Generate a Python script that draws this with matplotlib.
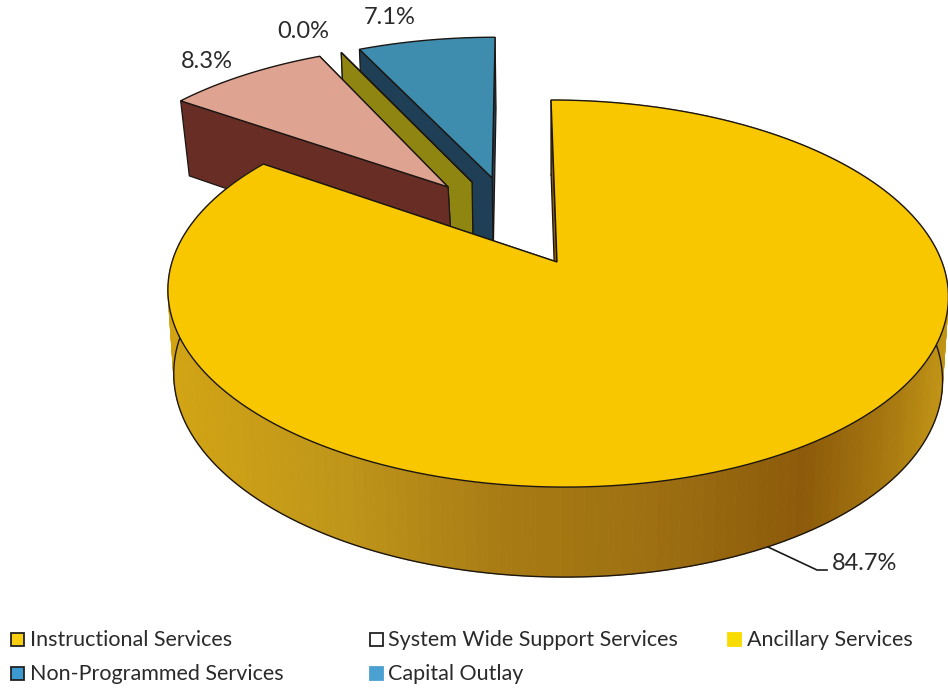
import numpy as np
import matplotlib
matplotlib.use("Agg")
import matplotlib.pyplot as plt
from matplotlib.collections import PolyCollection
from matplotlib.colors import LinearSegmentedColormap
from matplotlib.patches import Polygon, Rectangle

# Budget shares, in pie order clockwise from twelve o'clock
shares = [84.7, 8.3, 0.0, 7.1]
share_labels = ["84.7%", "8.3%", "0.0%", "7.1%"]

# Legend entries, row by row
legend_labels = ["Instructional Services", "System Wide Support Services", "Ancillary Services",
                 "Non-Programmed Services", "Capital Outlay"]
legend_fill = ["#F7CF10", "#FFFFFF", "#F8DC00", "#3C9AD0", "#4AA0D0"]
legend_edge = ["#222222", "#222222", "#F8DC00", "#222222", "#4AA0D0"]

# Slice styling and pull-out, the latter in pie-radius units
top_colors = ["#F9C700", "#DFA392", "#8F8612", "#3E8DAE"]
wall_colors = [None, "#682E26", "#8F8612", "#1F3F57"]
pull_x = [0.0, -0.295, -0.229, -0.173]
pull_y = [0.0, 0.426, 0.456, 0.481]
wall_nudge = [0.0, 3.0, 0.0, 0.0]

W, H = 948, 688
CX, CY = 557.0, 262.0
SCALE_X, SCALE_Y, PERSP, SHEAR = 385.0, 188.4, 0.163, -0.018


def project(x, y):
    """Perspective view of a point on the pie's top plane."""
    d = 1 + PERSP * y
    return CX + SCALE_X * (x + SHEAR * y) / d, CY - SCALE_Y * y / d


def drop(px, py, y, nudge=0.0):
    """Matching point on the pie's bottom plane."""
    return CX + (px - CX) * 0.985 + nudge, py + 82.5 - 7.5 * y


def sector(a0, a1, ox, oy, n=200):
    t = np.radians(np.linspace(a0, a1, n))
    return ox + np.sin(t), oy + np.cos(t)


def wall_quad(x, y, nudge=0.0):
    px, py = project(np.asarray(x), np.asarray(y))
    qx, qy = drop(px, py, np.asarray(y), nudge)
    return np.r_[px, qx[::-1]], np.r_[py, qy[::-1]]


fig = plt.figure(figsize=(W / 100, H / 100), dpi=100)
ax = fig.add_axes([0, 0, 1, 1])
ax.set_xlim(0, W)
ax.set_ylim(H, 0)
ax.axis("off")

rim = LinearSegmentedColormap.from_list(
    "rim", [(0.0, "#D2A414"), (0.22, "#C0961A"), (0.42, "#A97C14"), (0.62, "#9E7012"),
            (0.82, "#8C5A0A"), (0.93, "#A87A10"), (1.0, "#C39515")])
EDGE = "#1C1612"

ends = np.cumsum(shares) / sum(shares) * 360
starts = np.r_[0, ends[:-1]]


def draw_slice(i, z):
    a0, a1 = starts[i], ends[i]
    ox, oy = pull_x[i], pull_y[i]
    ax_, ay_ = sector(a0, a1, ox, oy)

    # Outer rim, shaded segment by segment on the large slice only
    px, py = project(ax_, ay_)
    qx, qy = drop(px, py, ay_)
    if i == 0 and a1 > a0:
        quads = [np.c_[[px[k], px[k + 1], qx[k + 1], qx[k]], [py[k], py[k + 1], qy[k + 1], qy[k]]]
                 for k in range(len(px) - 1)]
        shade = rim((0.5 * (px[:-1] + px[1:]) - px.min()) / (px.max() - px.min()))
        ax.add_collection(PolyCollection(quads, facecolors=shade, edgecolors=shade, linewidths=0.6, zorder=z))
        ax.plot(qx, qy, color=EDGE, lw=1.0, zorder=z + 0.1)
        start_wall = "#8A5B10"
    else:
        start_wall = wall_colors[i]

    # Radial faces: the one at the end of the sweep faces away, so it goes first
    for ang, col in ((a1, start_wall), (a0, start_wall)):
        t = np.radians(ang)
        wx, wy = wall_quad([ox, ox + np.sin(t)], [oy, oy + np.cos(t)], wall_nudge[i])
        ax.add_patch(Polygon(np.c_[wx, wy], closed=True, facecolor=col, edgecolor=EDGE, lw=0.9, zorder=z + 0.2))

    # Top surface
    tx, ty = project(np.r_[ox, ax_], np.r_[oy, ay_])
    ax.add_patch(Polygon(np.c_[tx, ty], closed=True, facecolor=top_colors[i], edgecolor=EDGE, lw=1.0, zorder=z + 0.3))


# Far slices first, the large slice last so it overlaps them
for z, i in enumerate([3, 2, 1, 0]):
    draw_slice(i, z + 1)

# Value labels
FONT = "Lato"
label_xy = {0: (832, 563), 1: (181, 62), 2: (277, 31), 3: (364, 18)}
for i, s in enumerate(share_labels):
    x, y = label_xy[i]
    ax.text(x, y, s, family=FONT, fontsize=17, color="#2A2A2A", ha="left", va="center", zorder=10)
ax.plot([768, 817, 827], [547, 570, 570], color="#1A1A1A", lw=1.2, zorder=10)

# Legend rows
legend_text_x = [30, 388, 747, 30, 388]
legend_y = [640, 640, 640, 674, 674]
legend_mark_x = [11, 370, 728, 11, 370]
for lab, tx_, ly, mx, fc, ec in zip(legend_labels, legend_text_x, legend_y, legend_mark_x, legend_fill, legend_edge):
    ax.add_patch(Rectangle((mx, ly - 7), 13, 13, facecolor=fc, edgecolor=ec, lw=1.3, zorder=10))
    ax.text(tx_, ly + 0.5, lab, family=FONT, fontsize=15.5, color="#2A2A2A", ha="left", va="center", zorder=10)

fig.savefig("out.png", dpi=100)
